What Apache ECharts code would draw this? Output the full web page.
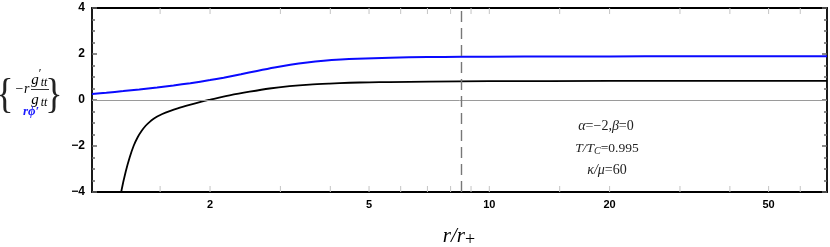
<!DOCTYPE html>
<html>
<head>
<meta charset="utf-8">
<script src="https://cdn.jsdelivr.net/npm/echarts@6/dist/echarts.min.js"></script>
<style>html,body{margin:0;padding:0;background:#fff}#c{width:830px;height:247px}</style>
</head>
<body>
<div id="c"></div>
<script>
// ---- data ----
const blackR = [1.175, 1.202, 1.230, 1.259, 1.288, 1.318, 1.349, 1.380, 1.413, 1.445, 1.479, 1.514, 1.585, 1.660, 1.778, 1.905, 1.995, 2.239, 2.512, 2.818, 3.162, 3.548, 3.981, 4.467, 5.012, 5.623, 7.079, 10, 19.95, 70];
const blackV = [-4.87, -3.89, -3.12, -2.49, -1.99, -1.62, -1.34, -1.12, -0.95, -0.82, -0.71, -0.62, -0.48, -0.36, -0.21, -0.07, 0.01, 0.20, 0.36, 0.50, 0.60, 0.67, 0.715, 0.75, 0.77, 0.78, 0.80, 0.817, 0.829, 0.835];
const blueR = [1.013, 1.1, 1.213, 1.33, 1.474, 1.62, 1.785, 2.0, 2.163, 2.39, 2.622, 2.9, 3.177, 3.5, 3.85, 4.25, 4.667, 5.65, 7.0, 8.5, 10, 15, 20, 30, 70];
const blueV = [0.26, 0.317, 0.389, 0.461, 0.548, 0.634, 0.733, 0.866, 0.971, 1.119, 1.264, 1.413, 1.532, 1.633, 1.708, 1.762, 1.796, 1.838, 1.866, 1.879, 1.884, 1.89, 1.895, 1.898, 1.9];
const dashedR = 8.5;
const xMajorTicks = [2, 5, 10, 20, 50];
const xMinorTicks = [1.5, 3, 4, 6, 7, 8, 9, 15, 30, 40, 60];
const yTicks = [-4, -2, 0, 2, 4];
const xRange = [1.013, 70];

const blackData = blackR.map((r, i) => [r, blackV[i]]);
const blueData = blueR.map((r, i) => [r, blueV[i]]);
const tickData = xMajorTicks.concat(xMinorTicks).map(r => [r, 0]);
const labelData = xMajorTicks.map(r => [r, 0]);

const chart = echarts.init(document.getElementById('c'), null, {renderer: 'canvas'});
const serif = "'Liberation Serif', 'Times New Roman', serif";
const sans = "'Liberation Sans', Arial, sans-serif";

const yAxisCommon = {
  type: 'value', min: -4, max: 4, interval: 2,
  axisLine: {show: true, onZero: false, lineStyle: {color: '#000', width: 1.8}},
  axisTick: {show: true, inside: true, length: 5, lineStyle: {color: '#666', width: 1.5}},
  minorTick: {show: true, splitNumber: 4, length: 3, lineStyle: {color: '#666', width: 1.5}},
  splitLine: {show: false}, minorSplitLine: {show: false}
};
const xAxisCommon = {
  type: 'log', logBase: 10, min: xRange[0], max: xRange[1],
  axisLine: {show: true, onZero: false, lineStyle: {color: '#000', width: 1.8}},
  axisTick: {show: false}, axisLabel: {show: false}, splitLine: {show: false}
};

chart.setOption({
  animation: false,
  backgroundColor: '#fff',
  grid: {left: 92, right: 3, top: 8, bottom: 55, containLabel: false},
  xAxis: [
    Object.assign({position: 'bottom'}, xAxisCommon),
    Object.assign({position: 'top'}, xAxisCommon)
  ],
  yAxis: [
    Object.assign({position: 'left', axisLabel: {show: true, margin: 7, color: '#000', fontWeight: 'bold', fontSize: 12, fontFamily: sans,
      formatter: v => String(v).replace('-', '\u2212')}}, yAxisCommon),
    Object.assign({position: 'right', axisLabel: {show: false}}, yAxisCommon)
  ],
  series: [
    {
      type: 'custom', xAxisIndex: 0, yAxisIndex: 0, data: tickData, encode: {x: 0, y: 1}, silent: true, z: 1,
      renderItem(params, api) {
        const r = api.value(0);
        const b = api.coord([r, -4]);
        const t = api.coord([r, 4]);
        return {type: 'group', children: [
          {type: 'line', shape: {x1: b[0], y1: b[1], x2: b[0], y2: b[1] - 6}, style: {stroke: '#c4c4c4', lineWidth: 1}},
          {type: 'line', shape: {x1: t[0], y1: t[1], x2: t[0], y2: t[1] + 6}, style: {stroke: '#c4c4c4', lineWidth: 1}}
        ]};
      }
    },
    {
      type: 'custom', xAxisIndex: 0, yAxisIndex: 0, data: labelData, encode: {x: 0, y: 1}, silent: true, clip: false,
      renderItem(params, api) {
        const r = api.value(0);
        const b = api.coord([r, -4]);
        return {type: 'text', x: b[0], y: b[1] + 13, style: {text: String(r), fill: '#000', font: 'bold 11px ' + sans, textAlign: 'center', textVerticalAlign: 'middle'}};
      }
    },
    {
      type: 'line', data: blackData, smooth: 0.3, showSymbol: false, symbol: 'none', clip: true,
      lineStyle: {color: '#000', width: 1.8}, z: 3,
      markLine: {
        silent: true, symbol: 'none', label: {show: false}, animation: false,
        data: [
          {yAxis: 0, lineStyle: {color: '#9a9a9a', width: 1, type: 'solid'}},
          {xAxis: dashedR, lineStyle: {color: '#777', width: 1.4, type: [11, 6]}}
        ]
      }
    },
    {
      type: 'line', data: blueData, smooth: 0.3, showSymbol: false, symbol: 'none', clip: true,
      lineStyle: {color: '#0a0aff', width: 2}, z: 4
    }
  ],
  graphic: [
    // y-axis title
    {type: 'text', x: 5, y: 96, scaleY: 1.2, style: {text: '{', font: '36px ' + serif, fill: '#222', textAlign: 'center', textVerticalAlign: 'middle'}},
    {type: 'text', x: 54, y: 96, scaleY: 1.2, style: {text: '}', font: '36px ' + serif, fill: '#222', textAlign: 'center', textVerticalAlign: 'middle'}},
    {type: 'text', x: 22, y: 89, style: {text: '\u2212r', font: 'italic 14px ' + serif, fill: '#000', textAlign: 'center', textVerticalAlign: 'middle'}},
    {type: 'text', x: 35, y: 80, style: {text: 'g', font: 'italic 15px ' + serif, fill: '#000', textAlign: 'center', textVerticalAlign: 'middle'}},
    {type: 'text', x: 40, y: 74, style: {text: '\u2032', font: '12px ' + serif, fill: '#000', textAlign: 'center', textVerticalAlign: 'middle'}},
    {type: 'text', x: 44, y: 83, style: {text: 'tt', font: 'italic 12px ' + serif, fill: '#000', textAlign: 'center', textVerticalAlign: 'middle'}},
    {type: 'line', shape: {x1: 31, y1: 89.5, x2: 49, y2: 89.5}, style: {stroke: '#000', lineWidth: 0.8}},
    {type: 'text', x: 35, y: 100, style: {text: 'g', font: 'italic 15px ' + serif, fill: '#000', textAlign: 'center', textVerticalAlign: 'middle'}},
    {type: 'text', x: 44, y: 103, style: {text: 'tt', font: 'italic 12px ' + serif, fill: '#000', textAlign: 'center', textVerticalAlign: 'middle'}},
    {type: 'text', x: 31, y: 112, style: {text: 'r\u03d5\u2032', font: 'bold italic 13px ' + serif, fill: '#1a1aff', textAlign: 'center', textVerticalAlign: 'middle'}},
    // x-axis title
    {type: 'text', x: 459, y: 236, style: {text: '{i|r/r}{s|+}', font: 'italic 21px ' + serif, fill: '#000', textAlign: 'center', textVerticalAlign: 'middle',
      rich: {i: {font: 'italic 21px ' + serif, fill: '#000'}, s: {font: '18px ' + serif, fill: '#000', padding: [9, 0, 0, 0]}}}},
    // annotation
    {type: 'text', x: 606, y: 126, style: {text: '{i|\u03b1}{n|=\u22122,}{i|\u03b2}{n|=0}', textAlign: 'center', textVerticalAlign: 'middle',
      rich: {i: {font: 'italic 14px ' + serif, fill: '#222'}, n: {font: '14px ' + serif, fill: '#222'}}}},
    {type: 'text', x: 607, y: 148, style: {text: '{i|T/T}{s|C}{n|=0.995}', textAlign: 'center', textVerticalAlign: 'middle',
      rich: {i: {font: 'italic 13.5px ' + serif, fill: '#222'}, n: {font: '13.5px ' + serif, fill: '#222'}, s: {font: 'italic 10px ' + serif, fill: '#222', padding: [6, 0, 0, 0]}}}},
    {type: 'text', x: 607, y: 170, style: {text: '{i|\u03ba/\u03bc}{n|=60}', textAlign: 'center', textVerticalAlign: 'middle',
      rich: {i: {font: 'italic 14px ' + serif, fill: '#222'}, n: {font: '14px ' + serif, fill: '#222'}}}}
  ]
});
</script>
</body>
</html>
